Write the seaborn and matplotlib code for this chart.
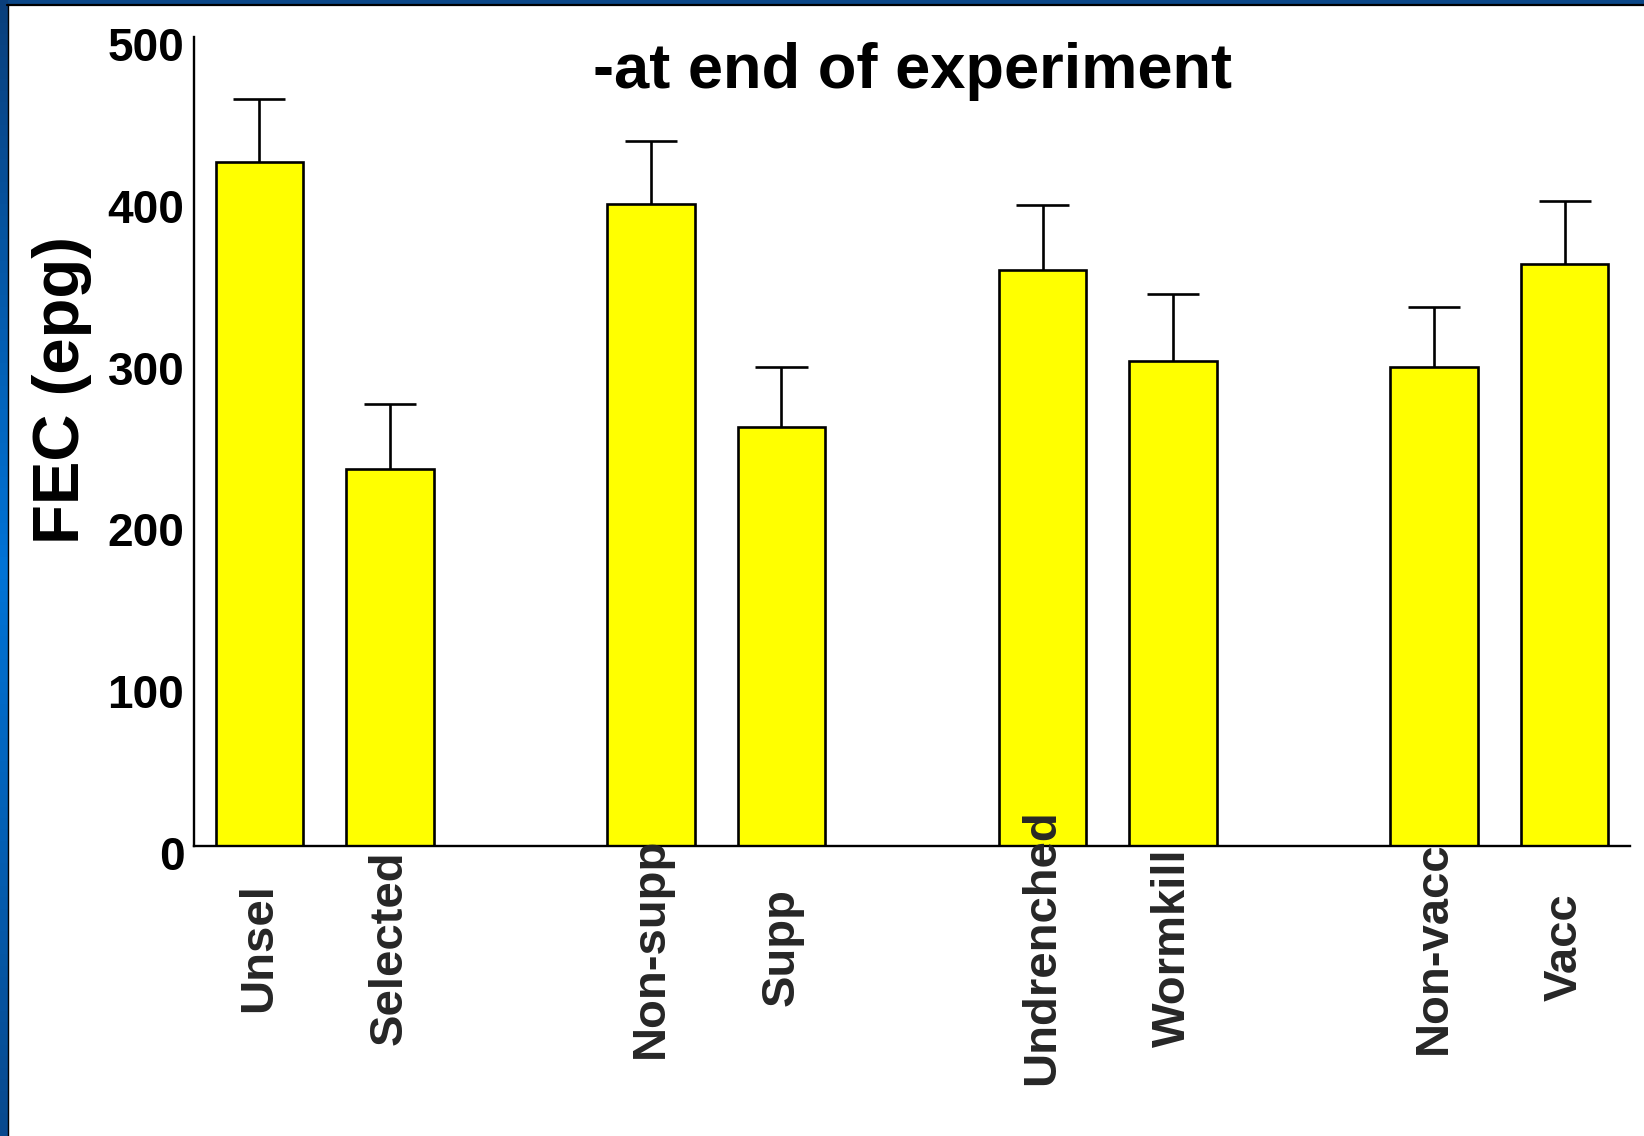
import numpy as np
import pandas as pd
import matplotlib
matplotlib.use("Agg")
import matplotlib.pyplot as plt
import matplotlib.transforms as mtransforms
import seaborn as sns

# данные
groups = ["Unsel", "Selected", "Non-supp", "Supp",
          "Undrenched", "Wormkill", "Non-vacc", "Vacc"]
positions = [0, 1, 3, 4, 6, 7, 9, 10]
fec_mean = [423, 233, 397, 259, 356, 300, 296, 360]
fec_upper = [462, 273, 436, 296, 396, 341, 333, 399]
y_ticks = [0, 100, 200, 300, 400, 500]

df = pd.DataFrame({"pos": positions, "group": groups, "fec": fec_mean})

sns.set_theme(style="white")
plt.rcParams["font.family"] = ["Liberation Sans", "DejaVu Sans"]
plt.rcParams["font.weight"] = "bold"

W, H, DPI = 1644, 1136, 100
fig = plt.figure(figsize=(W / DPI, H / DPI), dpi=DPI, facecolor="white")

# рамка слайда: синяя полоса сверху и слева
top_ax = fig.add_axes([0, 1 - 4 / H, 1, 4 / H])
top_ax.axis("off")
top_ax.add_patch(plt.Rectangle((0, 0), 1, 1, transform=top_ax.transAxes,
                               color="#0b4788"))
left_ax = fig.add_axes([0, 0, 7 / W, 1])
grad = np.concatenate([np.linspace(0.0, 1.0, 50), np.linspace(1.0, 0.2, 50)])
left_ax.imshow(grad[:, None], aspect="auto", cmap=matplotlib.colors.LinearSegmentedColormap.from_list(
    "bl", ["#0a3f7c", "#0073d6"]), extent=[0, 1, 0, 1])
left_ax.axis("off")
fig.add_artist(plt.Line2D([7 / W, 1], [1 - 5 / H, 1 - 5 / H], color="black", lw=1.6))
fig.add_artist(plt.Line2D([7.5 / W, 7.5 / W], [0, 1 - 4 / H], color="black", lw=1.0))

ax = fig.add_axes([194 / W, (H - 846) / H, 1436 / W, 808.75 / H])
ax.set_facecolor("white")
ax.set_axisbelow(False)

sns.barplot(data=df, x="pos", y="fec", native_scale=True, width=0.67,
            color="#ffff00", saturation=1, edgecolor="black", linewidth=1.9,
            errorbar=None, ax=ax, zorder=2)

# только верхняя половина ошибки
pos = np.array(positions, dtype=float)
ax.vlines(pos, np.array(fec_mean), np.array(fec_upper), color="black", lw=1.9, zorder=1.5)
ax.hlines(np.array(fec_upper), pos - 0.2, pos + 0.2, color="black", lw=1.9, zorder=1.5)

ax.set_xlim(-0.5, 10.5)
ax.set_ylim(0, 500)
ax.set_yticks(y_ticks)
ax.set_yticklabels([str(t) for t in y_ticks], fontsize=33, fontweight="bold")
ax.set_xticks(positions)
ax.set_xticklabels(groups, rotation=90, fontsize=34, fontweight="bold",
                   va="center", ha="center")
ax.tick_params(axis="x", length=0, pad=73)
ax.tick_params(axis="y", length=2, direction="in", pad=7, colors="black")

offset = mtransforms.ScaledTranslation(0, -7 / DPI, fig.dpi_scale_trans)
for lbl in ax.get_yticklabels():
    lbl.set_transform(lbl.get_transform() + offset)

for side in ["top", "right"]:
    ax.spines[side].set_visible(False)
for side in ["left", "bottom"]:
    ax.spines[side].set_color("black")
    ax.spines[side].set_linewidth(1.7)

ax.set_xlabel("")
ax.set_ylabel("FEC (epg)", fontsize=47, fontweight="bold", color="black")
ax.yaxis.set_label_coords(-0.071, 0.564)

ax.set_title("-at end of experiment", fontsize=45.5, fontweight="bold",
             y=0.937, pad=0, color="black")

fig.savefig("out.png", dpi=DPI, facecolor="white")
